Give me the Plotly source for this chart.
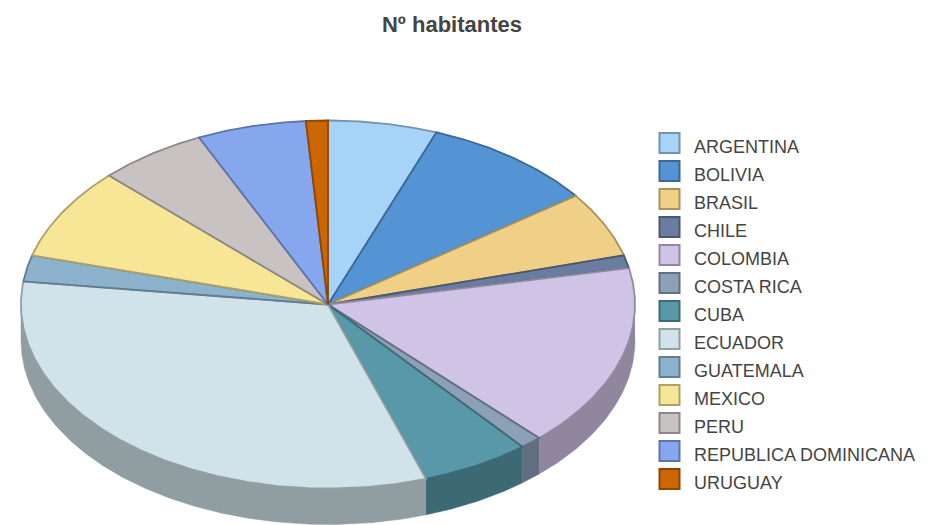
import numpy as np
import plotly.graph_objects as go

countries = ["ARGENTINA", "BOLIVIA", "BRASIL", "CHILE", "COLOMBIA", "COSTA RICA", "CUBA",
             "ECUADOR", "GUATEMALA", "MEXICO", "PERU", "REPUBLICA DOMINICANA", "URUGUAY"]
habitantes = [5, 8, 5, 1, 14, 1, 5, 28, 2, 7, 5, 5, 1]
colors = ["#a6d4f8", "#5594d4", "#f0d086", "#6a7da0", "#d0c4e6", "#8ca0b8", "#5898a8",
          "#d0e3ea", "#8cb2ce", "#f6e696", "#c8c2c2", "#86a6ee", "#cc6600"]

CX, CY, RX, RY, DEPTH = 328.0, 304.5, 307.0, 184.0, 36.0
LEG_X, LEG_Y, LEG_STEP, LEG_TEXT_X = 669.5, 143.0, 28.0, 694.0


def shade(hex_color, f):
    r, g, b = (int(hex_color[i:i + 2], 16) for i in (1, 3, 5))
    return f"rgb({round(r * f)},{round(g * f)},{round(b * f)})"


def rim(a, b, n=None):
    n = n or max(2, int(abs(b - a) * 2) + 2)
    t = np.radians(np.linspace(a, b, n))
    return CX + RX * np.sin(t), CY - RY * np.cos(t)


edges = np.concatenate([[0], np.cumsum(habitantes)]) / sum(habitantes) * 360.0
fig = go.Figure()

# side walls: only the part of each slice on the front half of the ellipse
for i, name in enumerate(countries):
    a, b = max(edges[i], 90.0), min(edges[i + 1], 270.0)
    if b <= a:
        continue
    x, y = rim(a, b)
    fig.add_trace(go.Scatter(
        x=np.concatenate([x, x[::-1]]), y=np.concatenate([y, y[::-1] + DEPTH]),
        mode="lines", fill="toself", fillcolor=shade(colors[i], 0.69),
        line=dict(color=shade(colors[i], 0.69), width=0.5),
        name=name, hoverinfo="skip", showlegend=False))

# top faces
for i, name in enumerate(countries):
    x, y = rim(edges[i], edges[i + 1])
    fig.add_trace(go.Scatter(
        x=np.concatenate([[CX], x, [CX]]), y=np.concatenate([[CY], y, [CY]]),
        mode="lines", fill="toself", fillcolor=colors[i],
        line=dict(color=shade(colors[i], 0.7), width=1.8),
        name=name, hoverinfo="name", showlegend=False))

# legend
rows = np.arange(len(countries))
fig.add_trace(go.Scatter(
    x=[LEG_X] * len(countries), y=LEG_Y + rows * LEG_STEP,
    mode="markers",
    marker=dict(symbol="square", size=20, color=colors,
                line=dict(color=[shade(c, 0.7) for c in colors], width=2)),
    hoverinfo="skip", showlegend=False))
fig.add_trace(go.Scatter(
    x=[LEG_TEXT_X] * len(countries), y=LEG_Y + 5 + rows * LEG_STEP,
    mode="text", text=countries, textposition="middle right",
    textfont=dict(family="Liberation Sans", size=18, color="#444444"),
    hoverinfo="skip", showlegend=False))

fig.update_layout(
    width=938, height=525, autosize=False,
    margin=dict(l=0, r=0, t=0, b=0),
    paper_bgcolor="white", plot_bgcolor="white",
    title=dict(text="<b>Nº habitantes</b>", x=452 / 938, xanchor="center",
               y=1 - 24 / 525, yanchor="middle",
               font=dict(family="Liberation Sans", size=22, color="#444444")),
    xaxis=dict(range=[0, 938], visible=False, fixedrange=True),
    yaxis=dict(range=[525, 0], visible=False, fixedrange=True),
)
fig.write_html("out.html", config={"displayModeBar": False},
               post_script="document.body.style.margin='0';")
